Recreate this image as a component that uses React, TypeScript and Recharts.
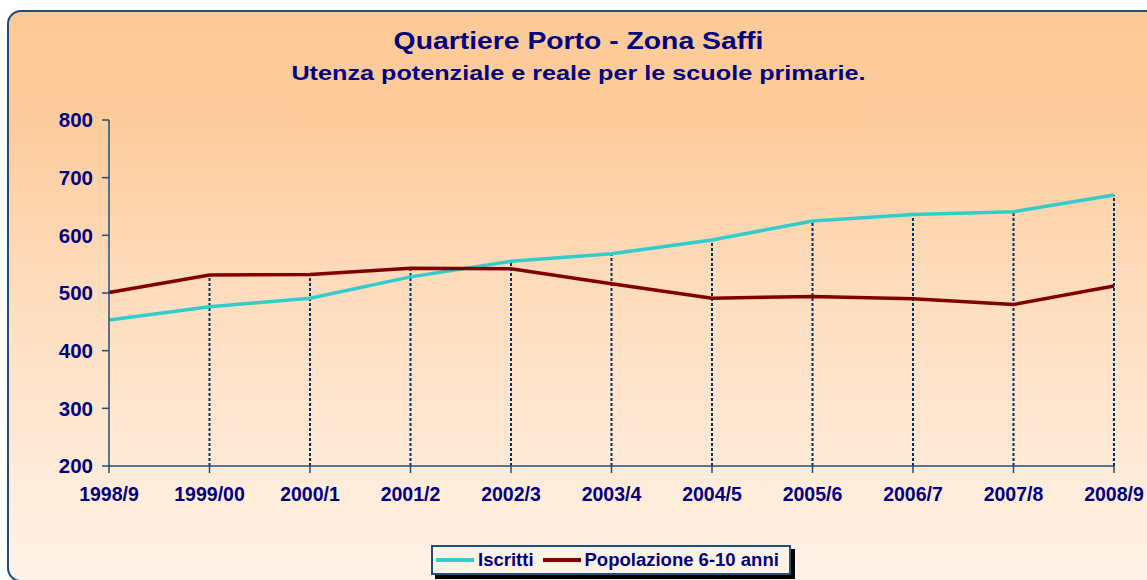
import React from "react";
import { LineChart, Line, XAxis, YAxis, ReferenceLine, Legend } from "recharts";

const YEARS = ["1998/9", "1999/00", "2000/1", "2001/2", "2002/3", "2003/4", "2004/5", "2005/6", "2006/7", "2007/8", "2008/9"];
const ISCRITTI = [453, 476, 491, 528, 555, 568, 592, 625, 636, 641, 670];
const POPOLAZIONE = [501, 531, 532, 543, 542, 516, 491, 494, 490, 480, 512];
const Y_TICKS = [200, 300, 400, 500, 600, 700, 800];

const NAVY = "#000080";
const AXIS = "#1F4E79";
const FONT = "'Liberation Sans', Arial, sans-serif";

const data = YEARS.map((year, i) => ({ year, iscritti: ISCRITTI[i], popolazione: POPOLAZIONE[i] }));

function LegendBox() {
  return (
    <div
      style={{
        display: "flex",
        alignItems: "center",
        width: 360,
        height: 30,
        boxSizing: "border-box",
        border: `2px solid ${AXIS}`,
        background: "#FFF3E8",
        boxShadow: "4px 4px 0 #000",
        fontFamily: FONT,
        fontWeight: "bold",
        fontSize: 18.5,
        color: NAVY,
        paddingLeft: 3,
      }}
    >
      <span style={{ display: "inline-block", width: 38, height: 4, background: "#33CCCC", marginRight: 4 }} />
      <span style={{ marginRight: 9 }}>Iscritti</span>
      <span style={{ display: "inline-block", width: 38, height: 4, background: "#800000", marginRight: 4 }} />
      <span>Popolazione 6-10 anni</span>
    </div>
  );
}

export default function App() {
  return (
    <div style={{ position: "absolute", left: 0, top: 0, width: 1147, height: 580, overflow: "hidden", background: "#fff" }}>
      <div
        style={{
          position: "absolute",
          left: 7,
          top: 10,
          width: 1170,
          height: 572,
          boxSizing: "border-box",
          border: `2px solid ${AXIS}`,
          borderRadius: 14,
          background: "linear-gradient(to bottom, #FDC997 0%, #FDCB9B 18%, #FEDDBE 50%, #FFF3E8 100%)",
        }}
      />
      <div style={{ position: "absolute", left: 286, top: 58, width: 584, height: 69, background: "#FDCA99" }} />
      <div
        style={{
          position: "absolute",
          left: 0,
          top: 25,
          width: 1157,
          textAlign: "center",
          fontFamily: FONT,
          fontWeight: "bold",
          color: NAVY,
        }}
      >
        <div style={{ fontSize: 24, lineHeight: "32px", transform: "scaleX(1.18)" }}>Quartiere Porto - Zona Saffi</div>
        <div style={{ fontSize: 21, lineHeight: "32px", transform: "scaleX(1.2)" }}>
          Utenza potenziale e reale per le scuole primarie.
        </div>
      </div>
      <div style={{ position: "absolute", left: 0, top: 0 }}>
        <LineChart width={1147} height={580} data={data} margin={{ top: 120, right: 33, bottom: 54, left: 0 }}>
          <XAxis
            dataKey="year"
            height={30}
            stroke={AXIS}
            strokeWidth={1.5}
            tickSize={7}
            tick={{ fill: NAVY, fontSize: 19.5, fontWeight: "bold", fontFamily: FONT }}
            tickMargin={14}
            interval={0}
          />
          <YAxis
            width={109}
            domain={[200, 800]}
            ticks={Y_TICKS}
            stroke={AXIS}
            strokeWidth={1.5}
            tickSize={7}
            tickMargin={9}
            tick={{ fill: NAVY, fontSize: 20.5, fontWeight: "bold", fontFamily: FONT }}
          />
          {data.slice(1).map((d) => (
            <ReferenceLine
              key={d.year}
              segment={[
                { x: d.year, y: 200 },
                { x: d.year, y: Math.max(d.iscritti, d.popolazione) },
              ]}
              stroke="#003366"
              strokeWidth={2}
              strokeDasharray="3 2"
            />
          ))}
          <Line
            dataKey="iscritti"
            name="Iscritti"
            stroke="#33CCCC"
            strokeWidth={3.5}
            dot={false}
            isAnimationActive={false}
          />
          <Line
            dataKey="popolazione"
            name="Popolazione 6-10 anni"
            stroke="#800000"
            strokeWidth={3.5}
            dot={false}
            isAnimationActive={false}
          />
          <Legend
            verticalAlign="bottom"
            content={() => <LegendBox />}
            wrapperStyle={{ position: "absolute", left: 431, top: 545, width: 360, height: 30 }}
          />
        </LineChart>
      </div>
    </div>
  );
}
